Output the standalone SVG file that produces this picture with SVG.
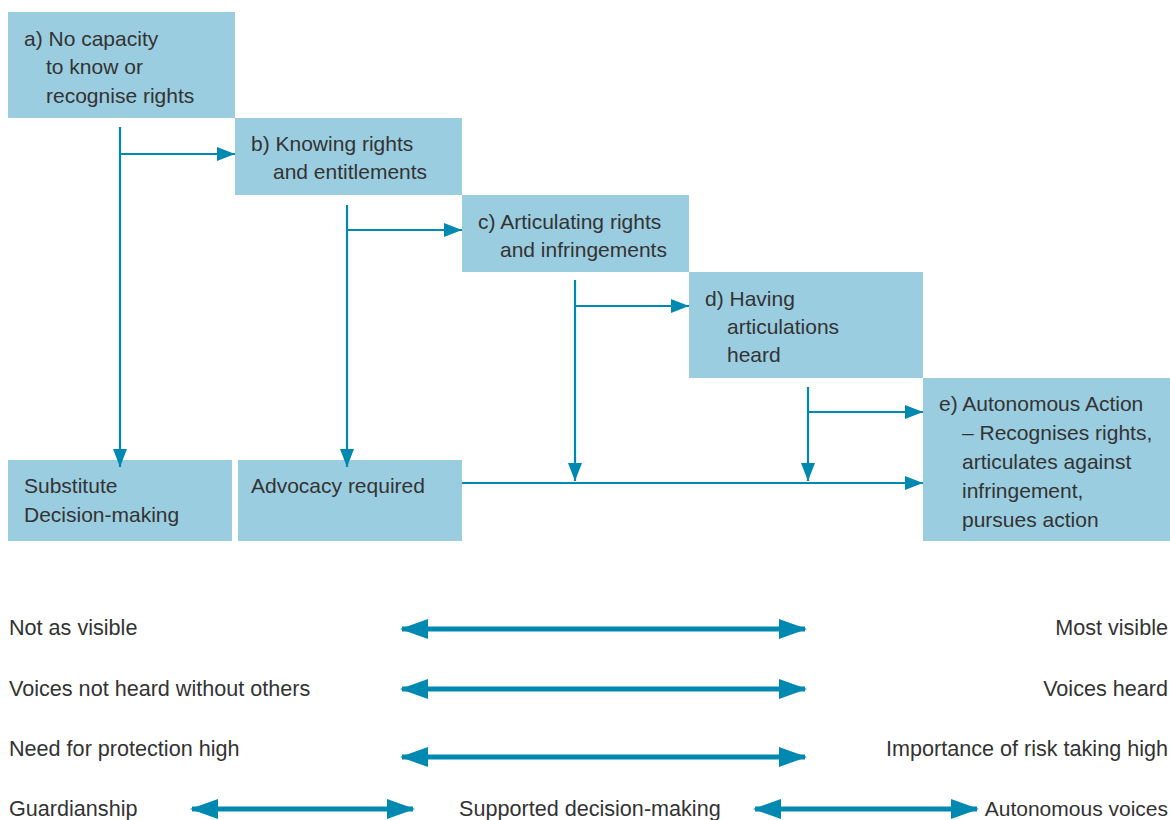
<svg xmlns="http://www.w3.org/2000/svg" width="1170" height="820" viewBox="0 0 1170 820">
<style>
.box{fill:#9bcde0}
text{font-family:"Liberation Sans",Arial,sans-serif;font-size:21px;fill:#333}
.lb{font-size:21.6px}
.r{text-anchor:end}
.sm{font-size:21px}
.c{stroke:#0089b0;stroke-width:2.2;fill:none}
.w{stroke:#0089b0;stroke-width:5;fill:none}
.h{fill:#0089b0}
</style>
<defs>
<marker id="ah" viewBox="0 0 18 14" refX="18" refY="7" markerWidth="18" markerHeight="14" markerUnits="userSpaceOnUse" orient="auto">
<path d="M0,0 L18,7 L0,14 Z" class="h"/>
</marker>
<marker id="big" viewBox="0 0 28 20" refX="26" refY="10" markerWidth="28" markerHeight="20" markerUnits="userSpaceOnUse" orient="auto-start-reverse">
<path d="M0,0 L28,10 L0,20 Z" class="h"/>
</marker>
</defs>
<rect width="1170" height="820" fill="#fff"/>

<g id="node-a"><rect class="box" x="8" y="12" width="227" height="106"/>
<text x="24" y="46">a) No capacity</text><text x="46" y="74">to know or</text><text x="46" y="103">recognise rights</text></g>
<g id="node-b"><rect class="box" x="235" y="118" width="227" height="77"/>
<text x="251" y="151">b) Knowing rights</text><text x="273" y="179">and entitlements</text></g>
<g id="node-c"><rect class="box" x="462" y="195" width="227" height="77"/>
<text x="478" y="229">c) Articulating rights</text><text x="500" y="257">and infringements</text></g>
<g id="node-d"><rect class="box" x="689" y="272" width="234" height="106"/>
<text x="705" y="306">d) Having</text><text x="727" y="334">articulations</text><text x="727" y="362">heard</text></g>
<g id="node-e"><rect class="box" x="923" y="378" width="250" height="163"/>
<text x="939" y="411">e) Autonomous Action</text><text x="962" y="440">– Recognises rights,</text><text x="962" y="469">articulates against</text><text x="962" y="498">infringement,</text><text x="962" y="527">pursues action</text></g>
<g id="node-substitute"><rect class="box" x="8" y="460" width="224" height="81"/>
<text x="24" y="493">Substitute</text><text x="24" y="522">Decision-making</text></g>
<g id="node-advocacy"><rect class="box" x="238" y="460" width="224" height="81"/>
<text x="251" y="493">Advocacy required</text></g>

<g id="connectors">
<path class="c" d="M120,127 V467" marker-end="url(#ah)"/>
<path class="c" d="M120,154 H235" marker-end="url(#ah)"/>
<path class="c" d="M347,205 V467" marker-end="url(#ah)"/>
<path class="c" d="M347,230 H462" marker-end="url(#ah)"/>
<path class="c" d="M575,280 V481" marker-end="url(#ah)"/>
<path class="c" d="M575,306 H689" marker-end="url(#ah)"/>
<path class="c" d="M808,387 V481" marker-end="url(#ah)"/>
<path class="c" d="M808,412 H923" marker-end="url(#ah)"/>
<path class="c" d="M462,483 H923" marker-end="url(#ah)"/>
<path class="w" d="M402,629 H805" marker-start="url(#big)" marker-end="url(#big)"/>
<path class="w" d="M402,689 H805" marker-start="url(#big)" marker-end="url(#big)"/>
<path class="w" d="M402,757 H805" marker-start="url(#big)" marker-end="url(#big)"/>
<path class="w" d="M192,809 H413" marker-start="url(#big)" marker-end="url(#big)"/>
<path class="w" d="M755,809 H977" marker-start="url(#big)" marker-end="url(#big)"/>
</g>

<g id="labels">
<text class="lb" x="9" y="635">Not as visible</text>
<text class="lb r" x="1168" y="635">Most visible</text>
<text class="lb" x="9" y="696">Voices not heard without others</text>
<text class="lb r" x="1168" y="696">Voices heard</text>
<text class="lb" x="9" y="756">Need for protection high</text>
<text class="lb r" x="1168" y="756">Importance of risk taking high</text>
<text class="lb" x="9" y="816">Guardianship</text>
<text class="lb" x="459" y="816">Supported decision-making</text>
<text class="lb r sm" x="1168" y="816">Autonomous voices</text>
</g>
</svg>
